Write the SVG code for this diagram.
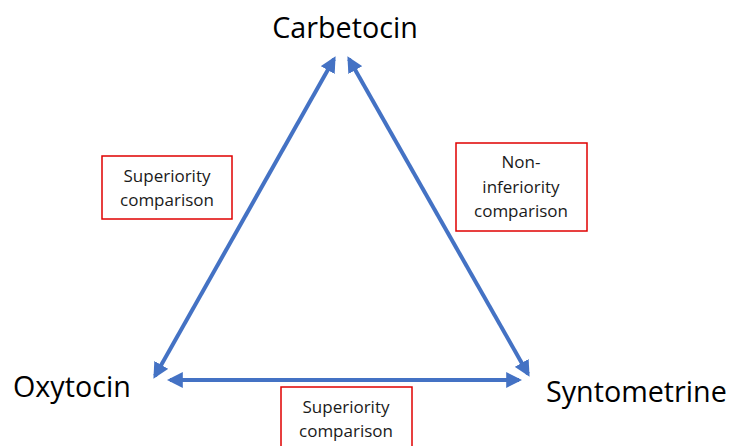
<svg xmlns="http://www.w3.org/2000/svg" width="730" height="446" viewBox="0 0 730 446">
<style>
.big{font-family:"Open Sans","Liberation Sans",sans-serif;font-size:28.7px;fill:#000}
.sm{font-family:"Open Sans","Liberation Sans",sans-serif;font-size:17px;fill:#1a1a1a;text-anchor:middle}
.box{fill:#fff;stroke:#e00000;stroke-width:1.5}
.ln{stroke:#4472C4;stroke-width:4;fill:none;marker-start:url(#ah);marker-end:url(#ah)}
</style>
<defs>
<marker id="ah" viewBox="0 0 10 10" refX="8" refY="5" markerWidth="16" markerHeight="16" markerUnits="userSpaceOnUse" orient="auto-start-reverse">
<path d="M0,0 L10,5 L0,10 z" fill="#4472C4"/>
</marker>
</defs>
<rect width="730" height="446" fill="#fff"/>
<g id="connectors">
<line class="ln" x1="155" y1="376" x2="334" y2="59"/>
<line class="ln" x1="349" y1="59" x2="528" y2="374"/>
<line class="ln" x1="170" y1="380" x2="519" y2="380"/>
</g>
<g id="carbetocin"><text class="big" x="345" y="38" text-anchor="middle">Carbetocin</text></g>
<g id="oxytocin"><text class="big" x="13" y="397">Oxytocin</text></g>
<g id="syntometrine"><text class="big" x="546" y="402">Syntometrine</text></g>
<g id="label-left">
<rect class="box" x="102" y="156" width="130" height="63"/>
<text class="sm" x="167" y="182">Superiority</text>
<text class="sm" x="167" y="206">comparison</text>
</g>
<g id="label-right">
<rect class="box" x="456" y="143" width="131" height="88"/>
<text class="sm" x="521" y="168">Non-</text>
<text class="sm" x="521" y="193">inferiority</text>
<text class="sm" x="521" y="217">comparison</text>
</g>
<g id="label-bottom">
<rect class="box" x="281" y="387" width="131" height="64"/>
<text class="sm" x="346" y="413">Superiority</text>
<text class="sm" x="346" y="437">comparison</text>
</g>
</svg>
